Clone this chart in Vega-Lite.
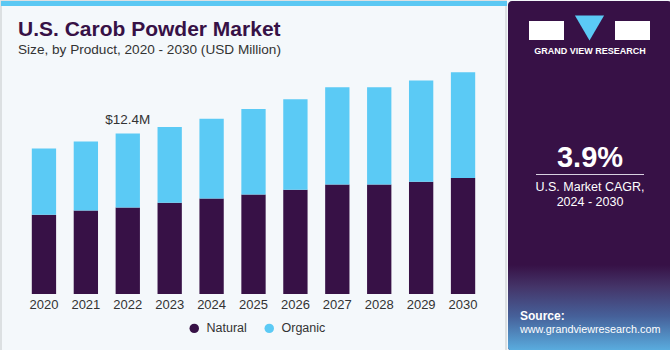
{
  "$schema": "https://vega.github.io/schema/vega-lite/v6.json",
  "padding": 0,
  "spacing": 0,
  "background": "#f4f8fb",
  "config": {
    "font": "Liberation Sans",
    "view": {"stroke": null},
    "concat": {"spacing": 0}
  },
  "datasets": {
    "market": [
      {"year": "2020", "product": "Natural", "value": 6.12},
      {"year": "2020", "product": "Organic", "value": 5.12},
      {"year": "2021", "product": "Natural", "value": 6.46},
      {"year": "2021", "product": "Organic", "value": 5.32},
      {"year": "2022", "product": "Natural", "value": 6.69},
      {"year": "2022", "product": "Organic", "value": 5.71},
      {"year": "2023", "product": "Natural", "value": 7.04},
      {"year": "2023", "product": "Organic", "value": 5.87},
      {"year": "2024", "product": "Natural", "value": 7.38},
      {"year": "2024", "product": "Organic", "value": 6.15},
      {"year": "2025", "product": "Natural", "value": 7.69},
      {"year": "2025", "product": "Organic", "value": 6.61},
      {"year": "2026", "product": "Natural", "value": 8.05},
      {"year": "2026", "product": "Organic", "value": 7.0},
      {"year": "2027", "product": "Natural", "value": 8.46},
      {"year": "2027", "product": "Organic", "value": 7.51},
      {"year": "2028", "product": "Natural", "value": 8.46},
      {"year": "2028", "product": "Organic", "value": 7.51},
      {"year": "2029", "product": "Natural", "value": 8.67},
      {"year": "2029", "product": "Organic", "value": 7.82},
      {"year": "2030", "product": "Natural", "value": 8.97},
      {"year": "2030", "product": "Organic", "value": 8.16}
    ],
    "callout": [{"year": "2022", "total": 12.4, "label": "$12.4M"}]
  },
  "hconcat": [
    {
      "width": 505,
      "height": 350,
      "view": {"stroke": "#d4d7da", "strokeWidth": 1.5, "fill": "#f4f8fb"},
      "layer": [
        {
          "data": {"values": [{}]},
          "mark": {"type": "rect", "color": "#5bc8f3"},
          "encoding": {"x": {"value": 0}, "x2": {"value": 506}, "y": {"value": 0}, "y2": {"value": 5}}
        },
        {
          "data": {"values": [{}]},
          "mark": {"type": "text", "text": "U.S. Carob Powder Market", "align": "left", "baseline": "alphabetic", "fontSize": 21, "fontWeight": "bold", "color": "#371146"},
          "encoding": {"x": {"value": 17}, "y": {"value": 35}}
        },
        {
          "data": {"values": [{}]},
          "mark": {"type": "text", "text": "Size, by Product, 2020 - 2030 (USD Million)", "align": "left", "baseline": "alphabetic", "fontSize": 13.6, "color": "#333333"},
          "encoding": {"x": {"value": 17}, "y": {"value": 53}}
        },
        {
          "data": {"name": "market"},
          "mark": {"type": "bar"},
          "encoding": {
            "x": {
              "field": "year", "type": "ordinal",
              "scale": {"range": [22, 483], "paddingInner": 0.42, "paddingOuter": 0.21},
              "axis": {"title": null, "domain": false, "ticks": false, "labelAngle": 0, "labelFontSize": 13, "labelColor": "#333333", "labelPadding": 3, "offset": -56}
            },
            "y": {
              "field": "value", "type": "quantitative", "stack": "zero",
              "scale": {"domain": [0, 18], "nice": false, "range": [293, 60]},
              "axis": null
            },
            "color": {
              "field": "product", "type": "nominal",
              "scale": {"domain": ["Natural", "Organic"], "range": ["#371146", "#5bcaf5"]},
              "legend": {
                "title": null, "orient": "none", "direction": "horizontal",
                "legendX": 187, "legendY": 321,
                "symbolType": "circle", "symbolSize": 90, "symbolStrokeWidth": 0,
                "labelFontSize": 12.5, "labelColor": "#333333", "labelOffset": 6, "columnPadding": 16
              }
            },
            "order": {"field": "product", "sort": "ascending"}
          }
        },
        {
          "data": {"name": "callout"},
          "mark": {"type": "text", "baseline": "alphabetic", "fontSize": 13.5, "color": "#333333", "dy": -9},
          "encoding": {
            "x": {"field": "year", "type": "ordinal"},
            "y": {"field": "total", "type": "quantitative"},
            "text": {"field": "label"}
          }
        }
      ]
    },
    {
      "width": 164,
      "height": 350,
      "view": {"fill": "#371146", "stroke": null, "cornerRadius": 4},
      "layer": [
        {
          "data": {"values": [{}]},
          "mark": {"type": "rect", "cornerRadiusBottomLeft": 4, "cornerRadiusBottomRight": 4,
            "color": {"gradient": "linear", "x1": 0, "y1": 0, "x2": 0, "y2": 1,
              "stops": [{"offset": 0, "color": "#371146"}, {"offset": 0.25, "color": "#443468"}, {"offset": 0.6, "color": "#46619a"}, {"offset": 1, "color": "#5aaee0"}]}},
          "encoding": {"x": {"value": 0}, "x2": {"value": 164}, "y": {"value": 264}, "y2": {"value": 350}}
        },
        {
          "data": {"values": [{}]},
          "mark": {"type": "rect", "color": "#ffffff"},
          "encoding": {"x": {"value": 21}, "x2": {"value": 56}, "y": {"value": 20}, "y2": {"value": 39}}
        },
        {
          "data": {"values": [{}]},
          "mark": {"type": "rect", "color": "#ffffff"},
          "encoding": {"x": {"value": 107}, "x2": {"value": 142}, "y": {"value": 20}, "y2": {"value": 39}}
        },
        {
          "data": {"values": [{}]},
          "mark": {"type": "point", "shape": "triangle-down", "filled": true, "color": "#5bcaf5", "size": 850, "opacity": 1},
          "encoding": {"x": {"value": 81.5}, "y": {"value": 27}}
        },
        {
          "data": {"values": [{}]},
          "mark": {"type": "text", "text": "GRAND VIEW RESEARCH", "align": "center", "baseline": "alphabetic", "fontSize": 9, "fontWeight": "bold", "color": "#ffffff", "letterSpacing": 1.4},
          "encoding": {"x": {"value": 82}, "y": {"value": 53}}
        },
        {
          "data": {"values": [{}]},
          "mark": {"type": "text", "text": "3.9%", "align": "center", "baseline": "alphabetic", "fontSize": 29, "fontWeight": "bold", "color": "#ffffff"},
          "encoding": {"x": {"value": 82}, "y": {"value": 166}}
        },
        {
          "data": {"values": [{}]},
          "mark": {"type": "rule", "color": "#d8d0e0", "strokeWidth": 1},
          "encoding": {"x": {"value": 28}, "x2": {"value": 136}, "y": {"value": 173.5}}
        },
        {
          "data": {"values": [{}]},
          "mark": {"type": "text", "text": "U.S. Market CAGR,", "align": "center", "baseline": "alphabetic", "fontSize": 12.5, "color": "#ffffff"},
          "encoding": {"x": {"value": 82}, "y": {"value": 190}}
        },
        {
          "data": {"values": [{}]},
          "mark": {"type": "text", "text": "2024 - 2030", "align": "center", "baseline": "alphabetic", "fontSize": 12.5, "color": "#ffffff"},
          "encoding": {"x": {"value": 82}, "y": {"value": 205}}
        },
        {
          "data": {"values": [{}]},
          "mark": {"type": "text", "text": "Source:", "align": "left", "baseline": "alphabetic", "fontSize": 12, "fontWeight": "bold", "color": "#ffffff"},
          "encoding": {"x": {"value": 12}, "y": {"value": 319}}
        },
        {
          "data": {"values": [{}]},
          "mark": {"type": "text", "text": "www.grandviewresearch.com", "align": "left", "baseline": "alphabetic", "fontSize": 10.8, "color": "#ffffff"},
          "encoding": {"x": {"value": 12}, "y": {"value": 332}}
        }
      ]
    }
  ]
}
